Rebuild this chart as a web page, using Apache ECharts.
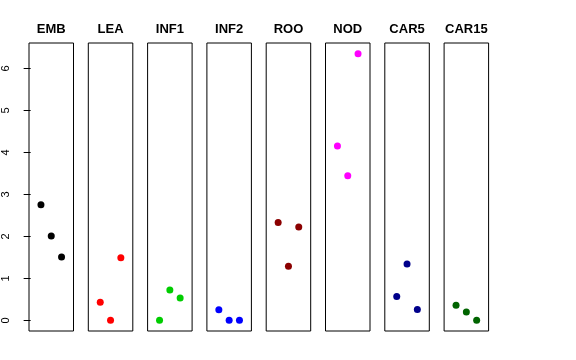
<!DOCTYPE html>
<html><head><meta charset="utf-8">
<script src="https://cdn.jsdelivr.net/npm/echarts@6/dist/echarts.min.js"></script>
<style>html,body{margin:0;padding:0;background:#fff}#c{width:576px;height:360px}</style>
</head><body><div id="c"></div>
<script>
const panels = ['EMB','LEA','INF1','INF2','ROO','NOD','CAR5','CAR15'];
const xPositions = [1, 2, 3];
const EMB = [2.75, 2.01, 1.51];
const LEA = [0.43, 0.00, 1.49];
const INF1 = [0.00, 0.72, 0.53];
const INF2 = [0.25, 0.00, 0.00];
const ROO = [2.33, 1.29, 2.22];
const NOD = [4.15, 3.44, 6.35];
const CAR5 = [0.57, 1.34, 0.26];
const CAR15 = [0.36, 0.20, 0.00];
const yTicks = [0, 1, 2, 3, 4, 5, 6];
const values = [EMB, LEA, INF1, INF2, ROO, NOD, CAR5, CAR15];
const colors = ['#000000','#FF0000','#00CD00','#0000FF','#8B0000','#FF00FF','#00008B','#006400'];

const allVals = values.flat();
const yMinD = Math.min(...allVals), yMaxD = Math.max(...allVals);
const yPad = (yMaxD - yMinD) * 0.04;
const xPad = (4 - 0) * 0.04;

const gridLeft0 = 29, gridStep = 59.3, gridW = 44.5, gridTop = 43, gridH = 288;
const grid = [], xAxis = [], yAxis = [], series = [], graphic = [];
panels.forEach((name, i) => {
  const left = gridLeft0 + i * gridStep;
  grid.push({left: left, top: gridTop, width: gridW, height: gridH, show: true,
    borderColor: '#000', borderWidth: 1, backgroundColor: 'transparent'});
  xAxis.push({gridIndex: i, type: 'value', min: 0 - xPad, max: 4 + xPad, show: false});
  yAxis.push({gridIndex: i, type: 'value', min: yMinD - yPad, max: yMaxD + yPad,
    show: i === 0, splitLine: {show: false},
    axisLine: {show: false},
    axisTick: {show: i === 0, length: 7, customValues: yTicks, lineStyle: {color: '#000'}},
    axisLabel: {show: i === 0, customValues: yTicks, rotate: 90, margin: 18,
      color: '#000', fontSize: 11, fontFamily: 'Liberation Sans'}});
  series.push({type: 'scatter', xAxisIndex: i, yAxisIndex: i, symbolSize: 7,
    itemStyle: {color: colors[i], opacity: 1},
    data: xPositions.map((x, k) => [x, values[i][k]])});
  graphic.push({type: 'text', x: left + gridW / 2, y: 29.5,
    style: {text: name, textAlign: 'center', textVerticalAlign: 'middle',
      font: 'bold 13px "Liberation Sans"', fill: '#000'}});
});

const chart = echarts.init(document.getElementById('c'), null, {renderer: 'canvas'});
chart.setOption({animation: false, backgroundColor: '#fff', grid, xAxis, yAxis, series, graphic});
</script></body></html>
